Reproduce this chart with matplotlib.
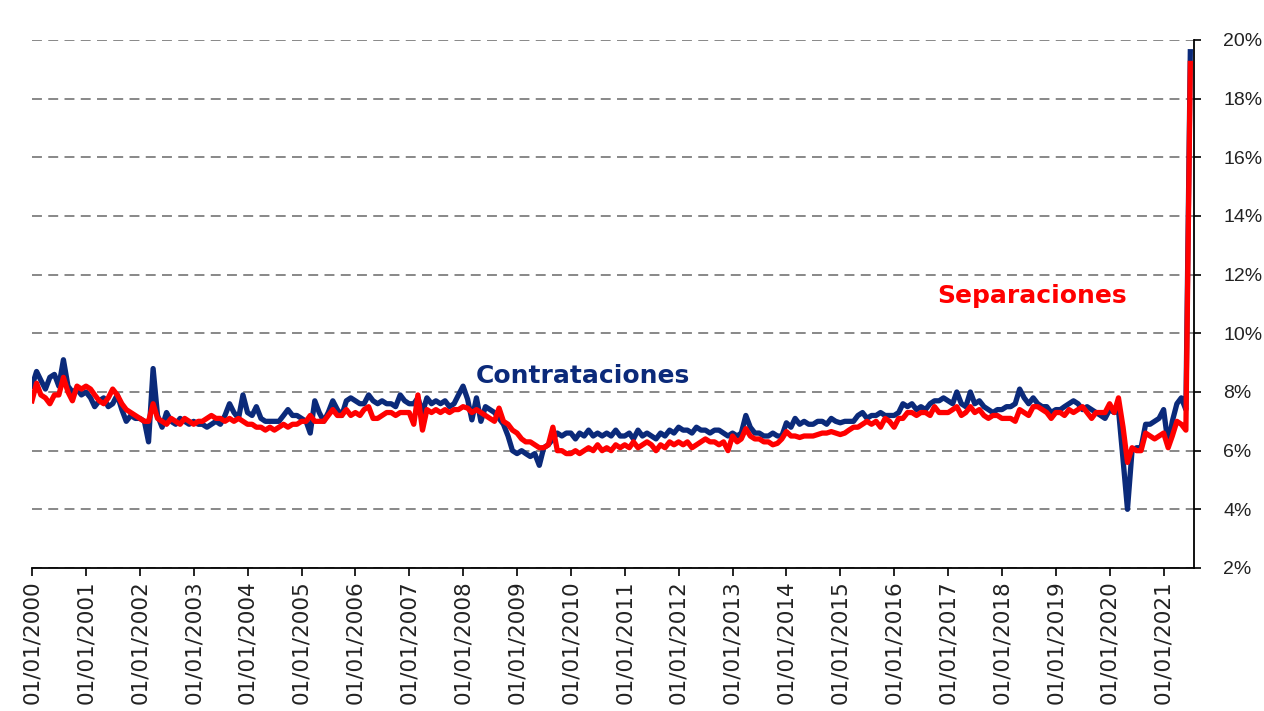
import pandas as pd
import matplotlib.pyplot as plt
import matplotlib.dates as mdates
from matplotlib.ticker import FuncFormatter

# monthly rates (%), Jan 2000 - Jul 2021
contrataciones = [
    8.2, 8.7, 8.4, 8.1, 8.5, 8.6, 8.2, 9.1, 8.2, 8.0, 8.1, 7.9,   # 2000
    8.0, 7.8, 7.5, 7.7, 7.8, 7.5, 7.6, 7.9, 7.4, 7.0, 7.2, 7.1,   # 2001
    7.1, 7.0, 6.3, 8.8, 7.2, 6.8, 7.3, 7.0, 6.9, 7.1, 7.0, 6.9,   # 2002
    7.0, 6.9, 6.9, 6.8, 6.9, 7.0, 6.9, 7.2, 7.6, 7.3, 7.1, 7.9,   # 2003
    7.3, 7.2, 7.5, 7.1, 7.0, 7.0, 7.0, 7.0, 7.2, 7.4, 7.2, 7.2,   # 2004
    7.1, 7.0, 6.6, 7.7, 7.3, 7.0, 7.3, 7.7, 7.4, 7.2, 7.7, 7.8,   # 2005
    7.7, 7.6, 7.6, 7.9, 7.7, 7.6, 7.7, 7.6, 7.6, 7.5, 7.9, 7.7,   # 2006
    7.6, 7.6, 7.8, 7.3, 7.8, 7.6, 7.7, 7.6, 7.7, 7.5, 7.6, 7.9,   # 2007
    8.2, 7.75, 7.05, 7.8, 7.0, 7.5, 7.4, 7.3, 7.1, 6.9, 6.5, 6.0,  # 2008
    5.9, 6.0, 5.9, 5.8, 5.9, 5.5, 6.1, 6.2, 6.4, 6.6, 6.5, 6.6,   # 2009
    6.6, 6.4, 6.6, 6.5, 6.7, 6.5, 6.6, 6.5, 6.6, 6.5, 6.7, 6.5,   # 2010
    6.5, 6.6, 6.4, 6.7, 6.5, 6.6, 6.5, 6.4, 6.6, 6.5, 6.7, 6.6,   # 2011
    6.8, 6.7, 6.7, 6.6, 6.8, 6.7, 6.7, 6.6, 6.7, 6.7, 6.6, 6.5,   # 2012
    6.6, 6.5, 6.6, 7.2, 6.8, 6.6, 6.6, 6.5, 6.5, 6.6, 6.5, 6.5,   # 2013
    6.95, 6.8, 7.1, 6.9, 7.0, 6.9, 6.9, 7.0, 7.0, 6.9, 7.1, 7.0,  # 2014
    6.95, 7.0, 7.0, 7.0, 7.2, 7.3, 7.1, 7.2, 7.2, 7.3, 7.2, 7.2,  # 2015
    7.2, 7.3, 7.6, 7.5, 7.6, 7.4, 7.5, 7.4, 7.6, 7.7, 7.7, 7.8,   # 2016
    7.7, 7.6, 8.0, 7.6, 7.5, 8.0, 7.6, 7.7, 7.5, 7.4, 7.3, 7.4,   # 2017
    7.4, 7.5, 7.5, 7.6, 8.1, 7.8, 7.6, 7.8, 7.6, 7.5, 7.5, 7.3,   # 2018
    7.4, 7.4, 7.5, 7.6, 7.7, 7.6, 7.4, 7.5, 7.4, 7.3, 7.2, 7.1,   # 2019
    7.4, 7.3, 7.4, 5.7, 4.0, 6.0, 6.1, 6.1, 6.9, 6.9, 7.0, 7.1,   # 2020
    7.4, 6.2, 7.0, 7.6, 7.8, 7.4, 19.6,                           # 2021
]
separaciones = [
    7.7, 8.3, 7.9, 7.8, 7.6, 7.9, 7.9, 8.5, 8.0, 7.7, 8.2, 8.1,   # 2000
    8.2, 8.1, 7.9, 7.7, 7.6, 7.8, 8.1, 7.9, 7.6, 7.4, 7.3, 7.2,   # 2001
    7.1, 7.0, 7.0, 7.6, 7.1, 7.0, 6.9, 7.1, 7.0, 6.9, 7.1, 7.0,   # 2002
    6.9, 7.0, 7.0, 7.1, 7.2, 7.1, 7.1, 7.0, 7.1, 7.0, 7.1, 7.0,   # 2003
    6.9, 6.9, 6.8, 6.8, 6.7, 6.8, 6.7, 6.8, 6.9, 6.8, 6.9, 6.9,   # 2004
    7.0, 7.0, 7.2, 7.0, 7.0, 7.0, 7.2, 7.4, 7.2, 7.2, 7.4, 7.2,   # 2005
    7.3, 7.2, 7.4, 7.5, 7.1, 7.1, 7.2, 7.3, 7.3, 7.2, 7.3, 7.3,   # 2006
    7.3, 6.9, 7.9, 6.7, 7.4, 7.3, 7.4, 7.3, 7.4, 7.3, 7.4, 7.4,   # 2007
    7.5, 7.45, 7.3, 7.4, 7.3, 7.2, 7.1, 7.0, 7.45, 7.0, 6.9, 6.7,  # 2008
    6.6, 6.4, 6.3, 6.3, 6.2, 6.1, 6.1, 6.2, 6.8, 6.0, 6.0, 5.9,   # 2009
    5.9, 6.0, 5.9, 6.0, 6.1, 6.0, 6.2, 6.0, 6.1, 6.0, 6.2, 6.1,   # 2010
    6.2, 6.1, 6.3, 6.1, 6.2, 6.3, 6.2, 6.0, 6.2, 6.1, 6.3, 6.2,   # 2011
    6.3, 6.2, 6.3, 6.1, 6.2, 6.3, 6.4, 6.3, 6.3, 6.2, 6.3, 6.0,   # 2012
    6.5, 6.3, 6.4, 6.75, 6.5, 6.4, 6.4, 6.3, 6.3, 6.2, 6.25, 6.4,  # 2013
    6.65, 6.5, 6.5, 6.45, 6.5, 6.5, 6.5, 6.55, 6.6, 6.6, 6.65, 6.6,  # 2014
    6.55, 6.6, 6.7, 6.8, 6.8, 6.9, 7.0, 6.9, 7.0, 6.8, 7.1, 7.0,  # 2015
    6.8, 7.1, 7.1, 7.3, 7.3, 7.2, 7.3, 7.3, 7.2, 7.5, 7.3, 7.3,   # 2016
    7.3, 7.4, 7.5, 7.2, 7.3, 7.5, 7.3, 7.4, 7.2, 7.1, 7.2, 7.2,   # 2017
    7.1, 7.1, 7.1, 7.0, 7.4, 7.3, 7.2, 7.5, 7.5, 7.4, 7.3, 7.1,   # 2018
    7.3, 7.3, 7.2, 7.4, 7.3, 7.4, 7.5, 7.3, 7.1, 7.3, 7.3, 7.3,   # 2019
    7.6, 7.3, 7.8, 6.8, 5.6, 6.1, 6.0, 6.0, 6.6, 6.5, 6.4, 6.5,   # 2020
    6.6, 6.1, 6.5, 7.0, 6.9, 6.7, 19.2,                           # 2021
]
months = pd.date_range("2000-01-01", periods=len(contrataciones), freq="MS")
y_ticks = list(range(2, 21, 2))

navy = "#0b2a7a"
red = "#ff0000"

fig = plt.figure(figsize=(12.64, 7.11), dpi=100)
ax = fig.add_axes([32 / 1264, 1 - 568 / 711, (1194 - 32) / 1264, (568 - 40) / 711])

ax.plot(months, contrataciones, color=navy, linewidth=3.8, solid_joinstyle="round", zorder=3)
ax.plot(months, separaciones, color=red, linewidth=3.8, solid_joinstyle="round", zorder=4)

ax.set_ylim(2, 20)
ax.set_xlim(months[0], months[-1] + pd.Timedelta(days=25))

# axis on the right, dashed grid
ax.yaxis.tick_right()
ax.set_yticks(y_ticks)
ax.yaxis.set_major_formatter(FuncFormatter(lambda v, p: f"{v:.0f}%"))
ax.yaxis.grid(True, linestyle=(0, (5.5, 3.5)), color="#7f7f7f", linewidth=1.3, zorder=0)
ax.set_axisbelow(True)

ax.xaxis.set_major_locator(mdates.YearLocator())
ax.xaxis.set_major_formatter(mdates.DateFormatter("%d/%m/%Y"))

for s in ["top", "left"]:
    ax.spines[s].set_visible(False)
ax.spines["right"].set_linewidth(1.3)
ax.spines["bottom"].set_linewidth(1.3)

ax.tick_params(axis="x", direction="out", length=6, width=1.2, pad=3,
               labelrotation=90, labelsize=15.5, labelcolor="#222222")
ax.tick_params(axis="y", direction="out", length=5, width=1.2, pad=16,
               labelsize=14, labelcolor="#222222")
for lab in ax.get_xticklabels():
    lab.set_fontfamily("DejaVu Sans")
for lab in ax.get_yticklabels():
    lab.set_fontfamily("Liberation Sans")

ax.text(0.474, 0.364, "Contrataciones", transform=ax.transAxes, color=navy,
        fontsize=18, fontweight="bold", ha="center", va="center")
ax.text(0.861, 0.515, "Separaciones", transform=ax.transAxes, color=red,
        fontsize=18, fontweight="bold", ha="center", va="center")

fig.savefig("out.png", dpi=100)
